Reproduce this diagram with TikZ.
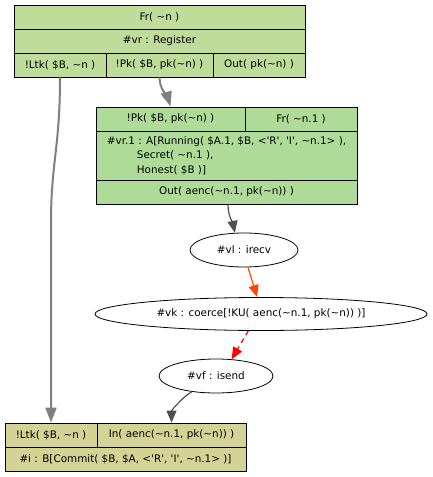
\documentclass[tikz,border=0pt]{standalone}
\usepackage{fontspec}
\setmainfont{DejaVu Sans}
\usetikzlibrary{arrows.meta,calc,shapes.geometric}
\definecolor{topfill}{RGB}{192,220,154}
\definecolor{midfill}{RGB}{174,220,152}
\definecolor{botfill}{RGB}{211,211,150}
\definecolor{edgegray}{RGB}{128,128,128}
\definecolor{edgedark}{RGB}{80,80,80}
\definecolor{edgeorange}{RGB}{255,69,0}
\newcommand\mytl{\textasciitilde}
\newcommand\myq{\textquotesingle}
\begin{document}
\begin{tikzpicture}[x=1bp,y=-1bp,
  txt/.style={font=\fontsize{10.4bp}{14.5bp}\selectfont},
  cell/.style={txt, draw=black, line width=0.8bp, inner sep=0pt, minimum height=24bp, anchor=center},
  topcell/.style={cell, fill=topfill},
  midcell/.style={cell, fill=midfill},
  botcell/.style={cell, fill=botfill},
  oval/.style={txt, draw=black, line width=0.8bp, ellipse, inner sep=0pt, fill=white},
  thickedge/.style={draw=edgegray, line width=2bp, -{Triangle[length=15bp,width=11bp]}},
  darkedge/.style={draw=edgedark, line width=1.2bp, -{Triangle[length=12bp,width=10bp]}},
  orangeedge/.style={draw=edgeorange, line width=1.2bp, -{Triangle[length=12bp,width=10bp]}},
  rededge/.style={draw=red, line width=1.2bp, dash pattern=on 5bp off 4bp, -{Triangle[length=12bp,width=10bp]}}
]
\useasboundingbox (0,0) rectangle (433,477);
% top box
\node[topcell, minimum width=291bp] (fr1) at (159.5,17) {Fr( \mytl n )};
\node[topcell, minimum width=291bp] (vr1) at (159.5,41) {\#vr : Register};
\node[topcell, minimum width=92bp] (ltk1) at (60,65) {!Ltk( \$B, \mytl n )};
\node[topcell, minimum width=107bp] (pk1) at (159.5,65) {!Pk( \$B, pk(\mytl n) )};
\node[topcell, minimum width=92bp] (out1) at (259,65) {Out( pk(\mytl n) )};
% second box
\node[midcell, minimum width=149bp] (pk2) at (170.5,119) {!Pk( \$B, pk(\mytl n) )};
\node[midcell, minimum width=112bp] (fr2) at (301,119) {Fr( \mytl n.1 )};
\node[midcell, minimum width=261bp, minimum height=49bp, align=left] (vr2) at (226.5,155.5)
  {\#vr.1 : A[Running( \$A.1, \$B, <\myq R\myq, \myq I\myq, \mytl n.1> ),\\
   \hspace*{30bp}Secret( \mytl n.1 ),\\
   \hspace*{30bp}Honest( \$B )]};
\node[midcell, minimum width=261bp] (out2) at (226.5,192) {Out( aenc(\mytl n.1, pk(\mytl n)) )};
% ellipses
\node[oval, minimum width=108bp, minimum height=34bp] (vl) at (244,250) {\#vl : irecv};
\node[oval, minimum width=332bp, minimum height=33bp] (vk) at (261,314) {\#vk : coerce[!KU( aenc(\mytl n.1, pk(\mytl n)) )]};
\node[oval, minimum width=114bp, minimum height=34bp] (vf) at (216,376) {\#vf : isend};
% bottom box
\node[botcell, minimum width=92bp] (ltk3) at (51,435) {!Ltk( \$B, \mytl n )};
\node[botcell, minimum width=149bp] (in3) at (171.5,435) {In( aenc(\mytl n.1, pk(\mytl n)) )};
\node[botcell, minimum width=241bp] (vi3) at (125.5,459) {\#i : B[Commit( \$B, \$A, <\myq R\myq, \myq I\myq, \mytl n.1> )]};
% edges
\draw[thickedge] (ltk1.south) .. controls +(0,70) and +(0,-60) .. ($(ltk3.north)+(0,-200)$) -- (ltk3.north);
\draw[thickedge] (pk1.south) .. controls +(0,12) and +(-3,-10) .. (pk2.north);
\draw[darkedge] ($(out2.south)+(1.5,0)$) .. controls +(0,12) and +(-2,-10) .. (vl.118);
\draw[orangeedge] (vl.-77) -- (vk.103);
\draw[rededge] (vk.-127) -- (vf.47);
\draw[darkedge] (vf.-147) .. controls +(-10,6) and +(0,-12) .. (in3.north);
\end{tikzpicture}
\end{document}
